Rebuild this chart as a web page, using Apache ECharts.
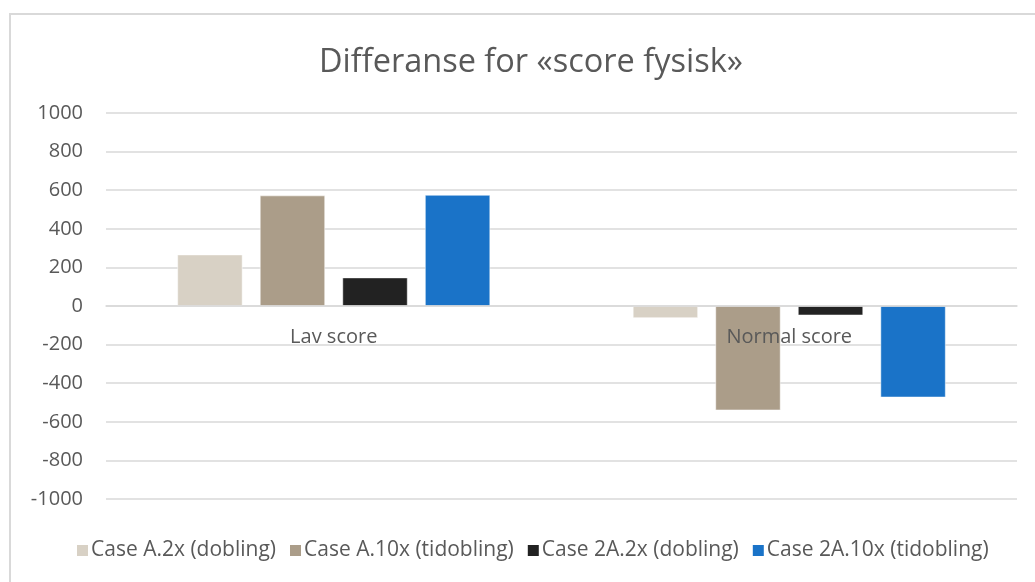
<!DOCTYPE html>
<html>
<head>
<meta charset="utf-8">
<script src="https://cdn.jsdelivr.net/npm/echarts@6/dist/echarts.min.js"></script>
<style>
  html, body { margin: 0; padding: 0; background: #fff; }
  #chart { width: 1035px; height: 582px; }
</style>
</head>
<body>
<div id="chart"></div>
<script>
// categories + series
var categories = ['Lav score', 'Normal score'];
var seriesNames = ['Case A.2x (dobling)', 'Case A.10x (tidobling)', 'Case 2A.2x (dobling)', 'Case 2A.10x (tidobling)'];
var caseA2x = [266, -62];
var caseA10x = [572, -540];
var case2A2x = [147, -48];
var case2A10x = [575, -473];
var colors = ['#D8D1C5', '#AB9D89', '#222222', '#1A73C8'];

var values = [caseA2x, caseA10x, case2A2x, case2A10x];

var myChart = echarts.init(document.getElementById('chart'));

var series = seriesNames.map(function (name, i) {
    return {
        name: name,
        type: 'bar',
        data: values[i],
        barWidth: 65,
        barGap: '27%',
        itemStyle: { color: colors[i], borderColor: '#ffffff', borderWidth: 0.5 }
    };
});

myChart.setOption({
    animation: false,
    color: colors,
    textStyle: { fontFamily: 'Open Sans' },
    title: {
        text: 'Differanse for «score fysisk»',
        left: 314,
        top: 41,
        textStyle: { fontFamily: 'Open Sans', fontSize: 32.5, fontWeight: 'normal', color: '#595959' }
    },
    legend: {
        bottom: 16,
        left: 70,
        itemWidth: 13,
        itemHeight: 13,
        itemGap: 12,
        icon: 'rect',
        textStyle: { fontSize: 21, color: '#595959', padding: [0, 0, 0, -3] },
        data: seriesNames
    },
    grid: { left: 106, right: 18, top: 113, bottom: 83 },
    xAxis: {
        type: 'category',
        data: categories,
        z: 10,
        // put the axis (and its labels) on the zero line: 0 sits 193px above the bottom
        offset: -193,
        axisLine: { onZero: false, lineStyle: { color: '#D9D9D9', width: 1.5 } },
        axisTick: { show: false },
        axisLabel: { fontSize: 20, color: '#595959', margin: 21 }
    },
    yAxis: {
        type: 'value',
        min: -1000,
        max: 1000,
        interval: 200,
        axisLine: { show: false },
        axisTick: { show: false },
        axisLabel: { fontSize: 20, color: '#595959', margin: 23, formatter: function (v) { return String(v); } },
        splitLine: { lineStyle: { color: '#D9D9D9', width: 1.5 } }
    },
    graphic: [{
        type: 'rect',
        shape: { x: 10, y: 14, width: 1200, height: 800 },
        style: { fill: 'none', stroke: '#D9D9D9', lineWidth: 2 },
        silent: true
    }],
    series: series
});
</script>
</body>
</html>
